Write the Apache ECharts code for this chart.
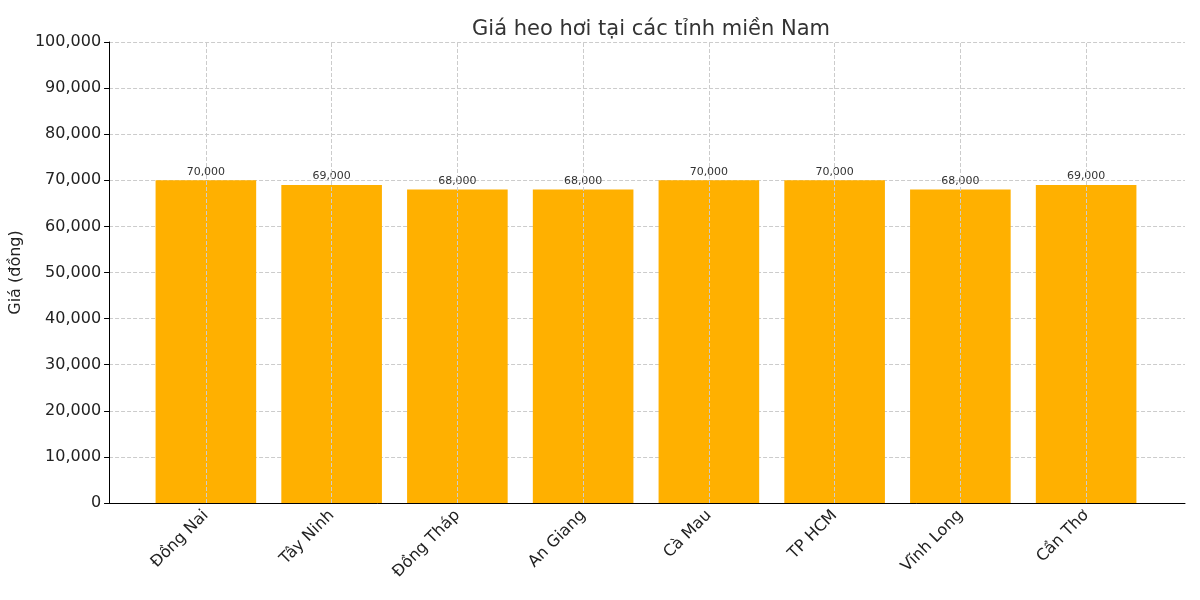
<!DOCTYPE html>
<html><head><meta charset="utf-8">
<script src="https://cdn.jsdelivr.net/npm/echarts@6/dist/echarts.min.js"></script>
<style>html,body{margin:0;background:#fff}#c{width:1200px;height:600px}</style>
</head><body><div id="c"></div>
<script>
const provinces = ['Đồng Nai', 'Tây Ninh', 'Đồng Tháp', 'An Giang', 'Cà Mau', 'TP HCM', 'Vĩnh Long', 'Cần Thơ'];
const prices = [70000, 69000, 68000, 68000, 70000, 70000, 68000, 69000];

const font = 'DejaVu Sans';
const dash = { color: '#ccc', type: [4, 2], width: 1 };
const chart = echarts.init(document.getElementById('c'));
chart.setOption({
  animation: false,
  textStyle: { fontFamily: font },
  title: {
    text: 'Giá heo hơi tại các tỉnh miền Nam', left: 646, textAlign: 'center', top: 14,
    textStyle: { fontSize: 21, fontWeight: 'normal', color: '#333', fontFamily: font }
  },
  grid: [
    { left: 108, right: 15, top: 42, bottom: 97 },
    { left: 143, right: 51, top: 42, bottom: 97 }
  ],
  xAxis: [{
    gridIndex: 0, type: 'value', min: 0, max: 1,
    axisLine: { lineStyle: { color: '#000' } },
    axisTick: { show: false }, axisLabel: { show: false }, splitLine: { show: false }
  }, {
    gridIndex: 1, type: 'category', data: provinces,
    axisLine: { show: false },
    axisTick: { alignWithLabel: true, length: 5, lineStyle: { color: '#000' } },
    axisLabel: { rotate: 45, color: '#222', fontSize: 16, margin: 10, fontFamily: font },
    splitLine: { show: false }
  }],
  yAxis: [{
    gridIndex: 0, type: 'value', min: 0, max: 100000, interval: 10000,
    name: 'Giá (đồng)', nameLocation: 'middle', nameGap: 80,
    nameTextStyle: { fontSize: 16, color: '#222', fontFamily: font },
    axisLine: { show: true, lineStyle: { color: '#000' } },
    axisTick: { show: true, length: 5, lineStyle: { color: '#000' } },
    axisLabel: { color: '#222', fontSize: 16, fontFamily: font },
    splitLine: { lineStyle: dash }
  }, {
    gridIndex: 1, type: 'value', min: 0, max: 100000, show: false
  }],
  series: [{
    type: 'bar', data: prices, barWidth: '80%',
    xAxisIndex: 1, yAxisIndex: 1,
    itemStyle: { color: '#FFB000' },
    label: {
      show: true, position: 'top', distance: 3, fontSize: 11, color: '#333',
      formatter: p => p.value.toLocaleString('en-US')
    },
    markLine: {
      silent: true, symbol: 'none', label: { show: false },
      lineStyle: dash,
      data: provinces.map(p => ({ xAxis: p }))
    },
    z: 3
  }]
});
</script></body></html>
